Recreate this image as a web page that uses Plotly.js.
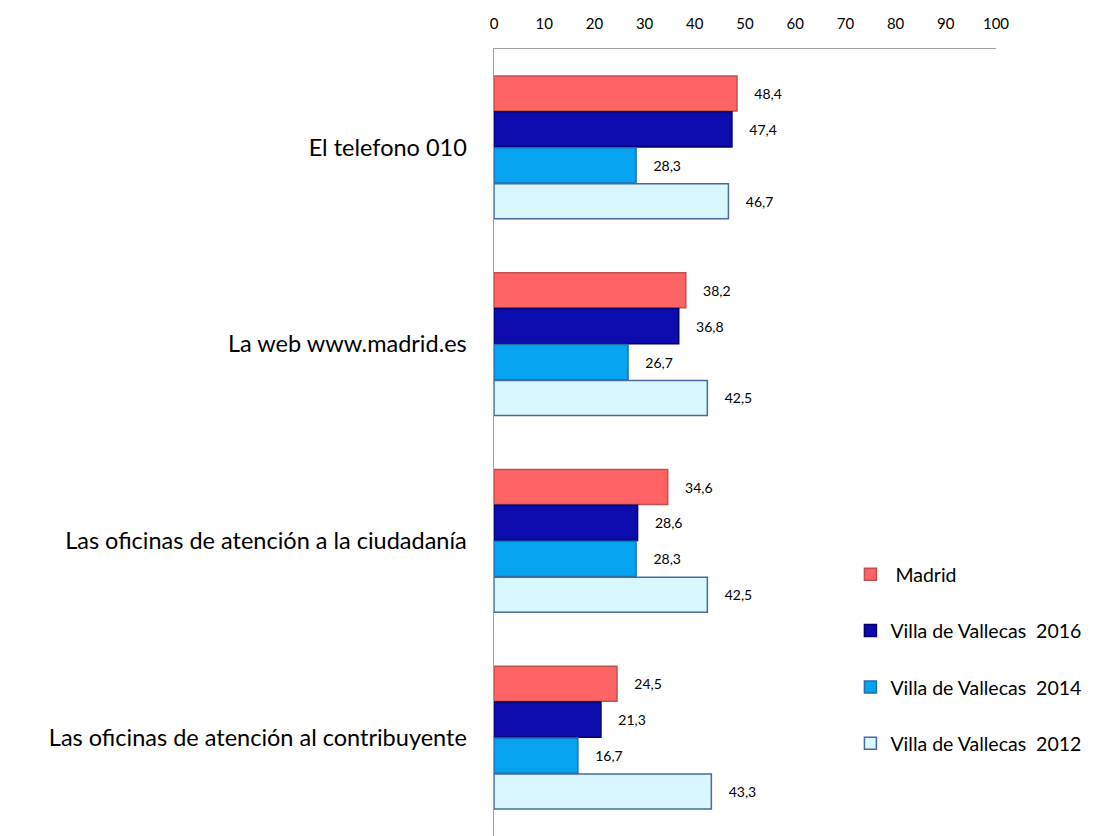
<!DOCTYPE html>
<html>
<head>
<meta charset="utf-8">
<script src="https://cdn.plot.ly/plotly-3.0.1.min.js"></script>
<style>html,body{margin:0;padding:0;background:#fff;}#chart{width:1114px;height:836px;}</style>
</head>
<body>
<div id="chart"></div>
<script>
const categories = [
  "El telefono 010",
  "La web www.madrid.es",
  "Las oficinas de atención a la ciudadanía",
  "Las oficinas de atención al contribuyente"
];
const seriesNames = ["\u00a0Madrid", "Villa de Vallecas\u00a0 2016", "Villa de Vallecas\u00a0 2014", "Villa de Vallecas\u00a0 2012"];
const madrid = [48.4, 38.2, 34.6, 24.5];
const vallecas2016 = [47.4, 36.8, 28.6, 21.3];
const vallecas2014 = [28.3, 26.7, 28.3, 16.7];
const vallecas2012 = [46.7, 42.5, 42.5, 43.3];
const xTicks = [0, 10, 20, 30, 40, 50, 60, 70, 80, 90, 100];

const seriesValues = [madrid, vallecas2016, vallecas2014, vallecas2012];
const fills = ["#FF6363", "#0B0BAE", "#05A3F0", "#D8F7FF"];
const borders = ["#C0504D", "#00006E", "#1E6FB0", "#4A6A9E"];

const FONT = "Lato, 'Open Sans', sans-serif";

const traces = seriesValues.map((vals, i) => ({
  type: "bar",
  orientation: "h",
  name: seriesNames[i],
  legendgroup: "g" + i,
  y: categories,
  x: vals,
  marker: { color: fills[i], line: { color: borders[i], width: 1.5 } },
  texttemplate: "\u00a0\u00a0\u00a0\u00a0%{x:.1f}",
  textposition: "outside",
  cliponaxis: false,
  textfont: { family: FONT, size: 14, color: "#000" },
  hoverinfo: "x+y+name"
}));

const layout = {
  width: 1114,
  height: 836,
  margin: { l: 494, r: 118, t: 49, b: 0, pad: 0 },
  paper_bgcolor: "#fff",
  plot_bgcolor: "#fff",
  separators: ",.",
  barmode: "group",
  bargap: 0.27,
  bargroupgap: 0.02,
  font: { family: FONT, color: "#000" },
  xaxis: {
    side: "top",
    range: [0, 100],
    tickvals: xTicks,
    ticktext: xTicks.map(String),
    ticks: "",
    ticklabelstandoff: 13,
    showgrid: false,
    zeroline: false,
    showline: true,
    linecolor: "#A0A0A0",
    linewidth: 1.5,
    tickfont: { family: FONT, size: 15, color: "#000" },
    fixedrange: true
  },
  yaxis: {
    type: "category",
    autorange: "reversed",
    ticks: "",
    ticklabelstandoff: 21,
    showgrid: false,
    zeroline: false,
    showline: true,
    linecolor: "#A0A0A0",
    linewidth: 1.5,
    tickfont: { family: FONT, size: 23.5, color: "#000" },
    fixedrange: true
  },
  showlegend: true,
  legend: {
    x: 0.71,
    y: 0.357,
    xanchor: "left",
    yanchor: "top",
    traceorder: "grouped",
    tracegroupgap: 28,
    bgcolor: "rgba(0,0,0,0)",
    font: { family: FONT, size: 19.5, color: "#000" },
    itemwidth: 30
  }
};

Plotly.newPlot("chart", traces, layout, { displayModeBar: false, staticPlot: true });
</script>
</body>
</html>
